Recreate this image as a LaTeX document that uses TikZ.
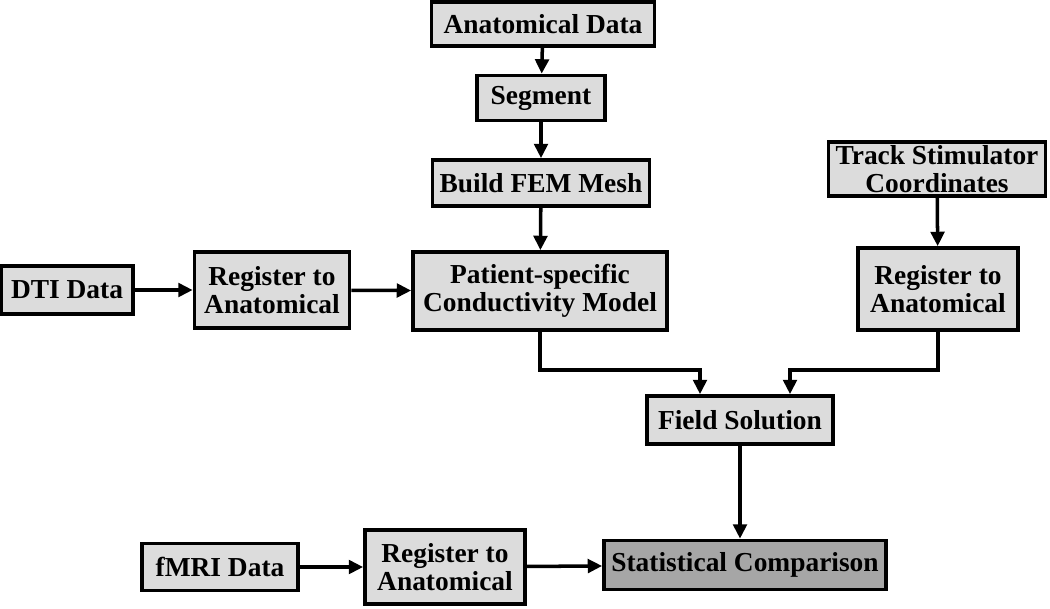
\documentclass[tikz,border=0pt]{standalone}
\usepackage{fontspec}
\setmainfont{Liberation Serif}
\usetikzlibrary{arrows.meta}
\usetikzlibrary{positioning}

\definecolor{boxgray}{HTML}{DCDCDC}
\definecolor{darkgray}{HTML}{A6A6A6}

\begin{document}
\begin{tikzpicture}[x=0.025cm,y=-0.025cm]
      \tikzset{
        >={Triangle[length=0.36cm,width=0.34cm]},
        box/.style={draw, line width=2.6pt, fill=boxgray, inner sep=0pt,
          align=center, font=\fontsize{19.5pt}{20pt}\selectfont\bfseries},
        darkbox/.style={box, fill=darkgray},
        link/.style={->, line width=2.5pt},
      }
      \useasboundingbox (0,0) rectangle (1050,608);

      \node[box, minimum width=5.575cm, minimum height=1.1cm] (anat) at (543,24) {Anatomical Data};
      \node[box, minimum width=3.2cm, minimum height=1.125cm] (seg) at (541,98) {Segment};
      \node[box, minimum width=5.425cm, minimum height=1.15cm] (fem) at (541,183) {Build FEM Mesh};
      \node[box, minimum width=5.425cm, minimum height=1.35cm] (track) at (937,169) {Track Stimulator\\Coordinates};

      \node[box, minimum width=3.3cm, minimum height=1.2cm] (dti) at (67,290) {DTI Data};
      \node[box, minimum width=3.875cm, minimum height=1.9cm] (regA) at (272,290) {Register to\\Anatomical};
      \node[box, minimum width=6.35cm, minimum height=1.95cm] (model) at (540,291) {Patient-specific\\Conductivity Model};
      \node[box, minimum width=4.0cm, minimum height=2.05cm] (regT) at (938,289) {Register to\\Anatomical};

      \node[box, minimum width=4.65cm, minimum height=1.2cm] (field) at (740,420) {Field Solution};

      \node[box, minimum width=3.9cm, minimum height=1.175cm] (fmri) at (220,567) {fMRI Data};
      \node[box, minimum width=4.0cm, minimum height=1.85cm] (regF) at (445,567) {Register to\\Anatomical};
      \node[darkbox, minimum width=7.05cm, minimum height=1.225cm] (stat) at (745,565) {Statistical Comparison};

      \coordinate (jl) at (700,370);
      \coordinate (jr) at (790,370);

      \draw[link] (anat) -- (seg);
      \draw[link] (seg) -- (fem);
      \draw[link] (fem) -- (model);
      \draw[link] (track) -- (regT);
      \draw[link] (dti) -- (regA);
      \draw[link] (regA) -- (model);
      \draw[link] (model.south) |- (jl) -- (jl |- field.north);
      \draw[link] (regT.south) |- (jr) -- (jr |- field.north);
      \draw[link] (field.south) -- (field.south |- stat.north);
      \draw[link] (fmri) -- (regF);
      \draw[link] (regF) -- (stat);
    \end{tikzpicture}
\end{document}
